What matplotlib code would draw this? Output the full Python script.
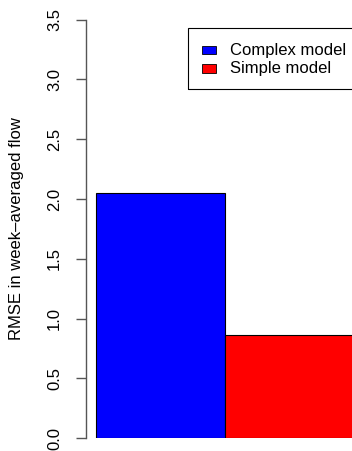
import matplotlib.pyplot as plt
from matplotlib.patches import Rectangle

# Data
models = ['Complex model', 'Simple model']
rmse = [2.05, 0.86]
colors = ['#0000ff', '#ff0000']
y_ticks = [0.0, 0.5, 1.0, 1.5, 2.0, 2.5, 3.0, 3.5]

W, H = 352, 451
fig = plt.figure(figsize=(W / 100, H / 100), dpi=100)
plt.rcParams['font.family'] = ['Liberation Sans', 'DejaVu Sans']

# axes: spine at x=86px, 0 at y=438px, 3.5 at y=19.5px
left, bottom_px, top_px = 86, 438.3, 19.5
ax = fig.add_axes([left / W, (H - bottom_px) / H, (W - left) / W, (bottom_px - top_px) / H])
ax.patch.set_alpha(0)

x = list(range(len(models)))
ax.bar(x, rmse, width=1.0, align='edge', color=colors, edgecolor='black', linewidth=0.8)
ax.set_xlim(-0.08, 1.98)
ax.set_ylim(0, 3.5)

for s in ['top', 'right', 'bottom']:
    ax.spines[s].set_visible(False)
ax.spines['left'].set_color('#555555')
ax.spines['left'].set_linewidth(1.0)
ax.set_xticks([])
ax.set_yticks(y_ticks)
ax.set_yticklabels([f'{t:.1f}' for t in y_ticks], rotation=90, va='center', fontsize=12)
# length/pad in points: 10px tick, 14px gap at 100 dpi
ax.tick_params(axis='y', length=7.2, width=1.0, color='#555555', pad=10)
ax.set_ylabel('RMSE in week\u2013averaged flow', fontsize=12)
ax.yaxis.set_label_coords(-62 / (W - left), 0.5)

# legend drawn as in R's legend(): box running off the right edge
fig.patches.append(Rectangle((187.7 / W, 1 - 89.3 / H), (W + 20 - 187.7) / W, (89.3 - 28.3) / H,
                             transform=fig.transFigure, fill=False, edgecolor='black',
                             linewidth=0.8))
for i, (lab, c) in enumerate(zip(models, colors)):
    yc = 50 + i * 18.7
    fig.patches.append(Rectangle((202 / W, 1 - (yc + 4.3) / H), 14 / W, 8.6 / H,
                                 transform=fig.transFigure, facecolor=c,
                                 edgecolor='black', linewidth=0.6))
    fig.text(230 / W, 1 - yc / H, lab, fontsize=12, va='center', ha='left')

fig.savefig('out.png', dpi=100)
